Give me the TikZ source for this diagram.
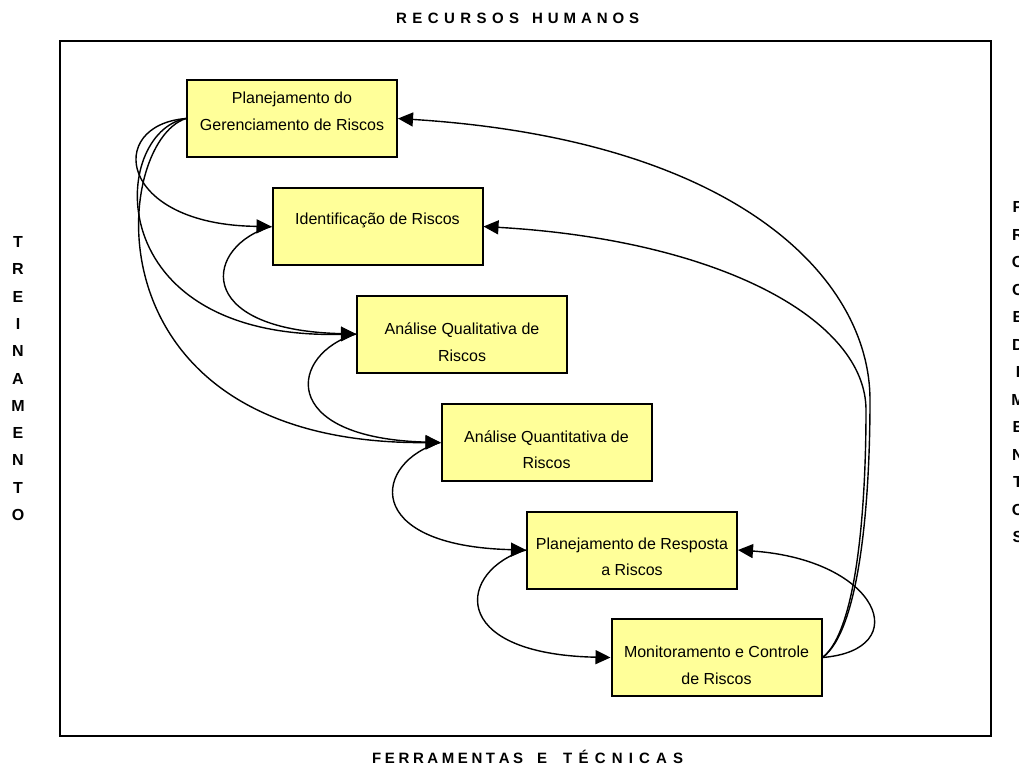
\documentclass[tikz,border=0pt]{standalone}
\usepackage{fontspec}
\setmainfont{Liberation Sans}
\usetikzlibrary{arrows.meta}
\definecolor{boxfill}{HTML}{FFFF99}
\begin{document}
\begin{tikzpicture}[x=1pt,y=-1pt,
  procbox/.style={draw=black,line width=2pt,fill=boxfill,minimum width=210pt,minimum height=77pt,inner sep=0pt},
  proctext/.style={align=center,font=\fontsize{16}{26.5}\selectfont,inner sep=0pt},
  flow/.style={line width=1.4pt,-{Triangle[length=15pt,width=14pt]}},
  title/.style={font=\fontsize{15}{15}\bfseries\selectfont,inner sep=0pt,anchor=base west},
  vletter/.style={font=\fontsize{16}{16}\bfseries\selectfont,inner sep=0pt}]
\useasboundingbox (0,0) rectangle (1019,773);
\fill[white] (0,0) rectangle (1019,773);
\node[draw,line width=2pt,minimum width=931pt,minimum height=695pt,inner sep=0pt] (frame) at (525.5,388.5) {};

% process boxes
\node[procbox] (b1) at (292,118.5) {};
\node[procbox] (b2) at (377.5,226.5) {};
\node[procbox] (b3) at (462,334) {};
\node[procbox] (b4) at (546.5,442.5) {};
\node[procbox] (b5) at (632,550) {};
\node[procbox] (b6) at (716.5,657.5) {};

\node[proctext] (t1) at (292,111.5) {Planejamento do\\Gerenciamento de Riscos};
\node[proctext] (t2) at (377.5,220) {Identificação de Riscos};
\node[proctext] (t3) at (462,342) {Análise Qualitativa de\\Riscos};
\node[proctext] (t4) at (546.5,449.5) {Análise Quantitativa de\\Riscos};
\node[proctext] (t5) at (632,557) {Planejamento de Resposta\\a Riscos};
\node[proctext] (t6) at (716.5,665.5) {Monitoramento e Controle\\de Riscos};

% connectors on the left
\draw[flow] (b1.west) .. controls (105,125) and (118,225) .. (b2.west);
\draw[flow] (b1.west) .. controls (110,132) and (97,340) .. (b3.west);
\draw[flow] (b1.west) .. controls (112,142) and (82,445) .. (b4.west);
\draw[flow] (b2.west) .. controls (205,245) and (190,330) .. (b3.west);
\draw[flow] (b3.west) .. controls (290,353) and (275,438) .. (b4.west);
\draw[flow] (b4.west) .. controls (374,461) and (359,546) .. (b5.west);
\draw[flow] (b5.west) .. controls (459,569) and (444,654) .. (b6.west);

% connectors on the right
\draw[flow] (b6.east) .. controls (860,630) and (870,500) .. (870,400) .. controls (870,280) and (740,140) .. (b1.east);
\draw[flow] (b6.east) .. controls (858,630) and (866,500) .. (866,410) .. controls (866,320) and (720,240) .. (b2.east);
\draw[flow] (b6.east) .. controls (915,650) and (880,560) .. (b5.east);

% titles
\node[title] (rh1) at (396,24) {\makebox[123pt]{R\hfill E\hfill C\hfill U\hfill R\hfill S\hfill O\hfill S}};
\node[title] (rh2) at (532,24) {\makebox[107pt]{H\hfill U\hfill M\hfill A\hfill N\hfill O\hfill S}};
\node[title] (ft1) at (372,763) {\makebox[151pt]{F\hfill E\hfill R\hfill R\hfill A\hfill M\hfill E\hfill N\hfill T\hfill A\hfill S}};
\node[title] (ft2) at (537,763) {E};
\node[title] (ft3) at (563,763) {\makebox[120pt]{T\hfill É\hfill C\hfill N\hfill I\hfill C\hfill A\hfill S}};

\foreach \l [count=\i] in {T,R,E,I,N,A,M,E,N,T,O}
  \node[vletter] (tr\i) at (18,{242+(\i-1)*27.3}) {\l};
\foreach \l [count=\i] in {P,R,O,C,E,D,I,M,E,N,T,O,S}
  \node[vletter] (pr\i) at (1018,{207+(\i-1)*27.5}) {\l};
\end{tikzpicture}
\end{document}
